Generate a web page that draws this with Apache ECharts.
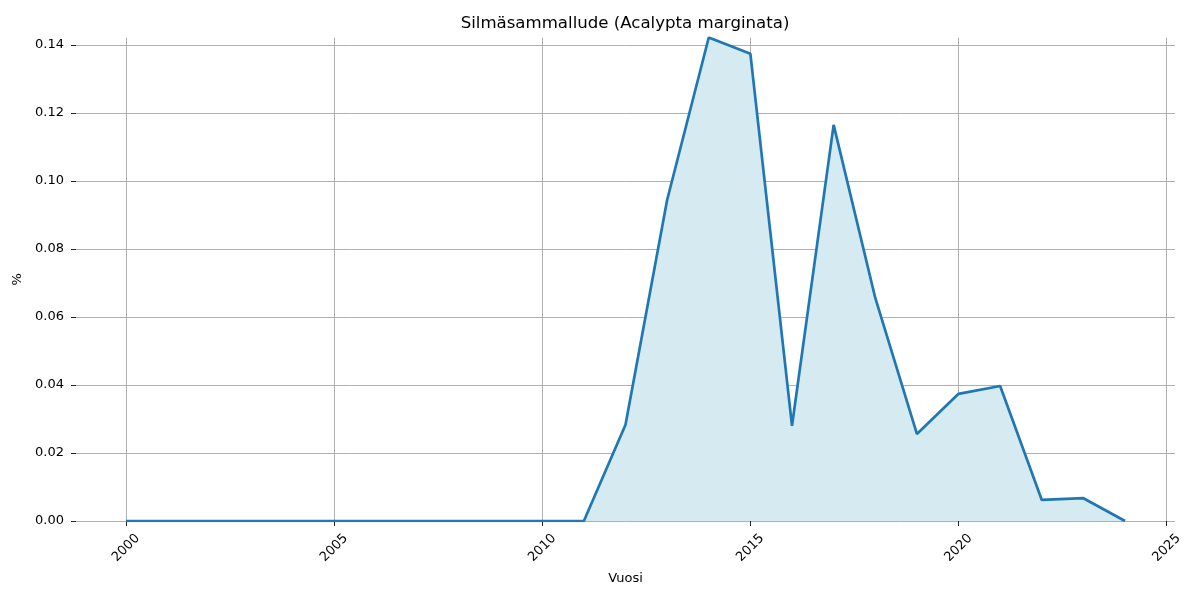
<!DOCTYPE html>
<html>
<head>
<meta charset="utf-8">
<script src="https://cdn.jsdelivr.net/npm/echarts@6/dist/echarts.min.js"></script>
<style>
  html, body { margin: 0; padding: 0; background: #fff; }
  #chart { width: 1200px; height: 600px; }
</style>
</head>
<body>
<div id="chart"></div>
<script>
const years = [2000, 2001, 2002, 2003, 2004, 2005, 2006, 2007, 2008, 2009, 2010, 2011,
  2012, 2013, 2014, 2015, 2016, 2017, 2018, 2019, 2020, 2021, 2022, 2023, 2024];
const shares = [0, 0, 0, 0, 0, 0, 0, 0, 0, 0, 0, 0,
  0.0283, 0.0944, 0.1422, 0.1374, 0.0280, 0.1165, 0.0656, 0.0256, 0.0374, 0.0397, 0.0062, 0.0067, 0];
const xTicks = [2000, 2005, 2010, 2015, 2020, 2025];
const yTicks = [0, 0.02, 0.04, 0.06, 0.08, 0.10, 0.12, 0.14];

const chart = echarts.init(document.getElementById('chart'));
const font = 'DejaVu Sans';

chart.setOption({
  animation: false,
  backgroundColor: '#fff',
  title: {
    text: 'Silmäsammallude (Acalypta marginata)',
    left: 620,
    textAlign: 'center',
    top: 10,
    textStyle: { fontFamily: font, fontSize: 16.6, fontWeight: 'normal', color: '#000' }
  },
  grid: { left: 76, right: 25, top: 37.5, bottom: 79 },
  xAxis: {
    type: 'value',
    min: 1998.8,
    max: 2025.2,
    name: 'Vuosi',
    nameLocation: 'middle',
    nameGap: 51,
    nameTextStyle: { fontFamily: font, fontSize: 13, color: '#000' },
    axisLine: { show: false },
    axisTick: { show: true, customValues: xTicks, length: 5, lineStyle: { color: '#222' } },
    axisLabel: {
      customValues: xTicks,
      formatter: v => String(v),
      rotate: 45,
      align: 'center',
      verticalAlign: 'middle',
      margin: 27,
      fontFamily: font,
      fontSize: 13,
      color: '#000'
    },
    splitLine: { show: true, lineStyle: { color: '#b0b0b0', width: 1 } }
  },
  yAxis: {
    type: 'value',
    min: 0,
    max: 0.1422,
    name: '%',
    nameLocation: 'middle',
    nameGap: 47,
    nameTextStyle: { fontFamily: font, fontSize: 13, color: '#000' },
    axisLine: { show: false },
    axisTick: { show: true, customValues: yTicks, length: 5, lineStyle: { color: '#222' } },
    axisLabel: {
      customValues: yTicks,
      formatter: v => v.toFixed(2),
      margin: 12,
      fontFamily: font,
      fontSize: 13,
      color: '#000'
    },
    splitLine: { show: true, lineStyle: { color: '#b0b0b0', width: 1 } }
  },
  series: [{
    type: 'line',
    data: years.map((y, i) => [y, shares[i]]),
    symbol: 'none',
    lineStyle: { color: '#1f77b4', width: 2.7 },
    areaStyle: { color: '#d5eaf1', opacity: 1, origin: 'start' },
    z: 3
  }]
});
</script>
</body>
</html>
